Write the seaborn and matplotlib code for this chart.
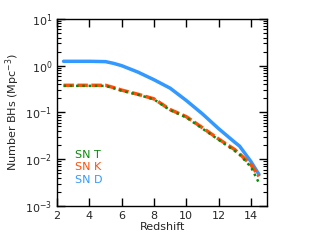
import numpy as np
import pandas as pd
import matplotlib
matplotlib.use("Agg")
import matplotlib.pyplot as plt
import seaborn as sns
from matplotlib.ticker import LogLocator, NullFormatter

redshift = [2.4, 3, 4, 5, 5.5, 6, 7, 8, 9, 10, 11, 12, 13, 13.3, 14, 14.5]
sn_d = [1.24, 1.24, 1.24, 1.22, 1.12, 1.00, 0.73, 0.50, 0.33, 0.18, 0.093, 0.045, 0.023, 0.019, 0.0089, 0.0047]
sn_k = [0.38, 0.38, 0.38, 0.38, 0.34, 0.30, 0.245, 0.195, 0.115, 0.081, 0.047, 0.027, 0.016, 0.013, 0.0076, 0.0043]
sn_t = [0.37, 0.37, 0.37, 0.37, 0.33, 0.29, 0.24, 0.19, 0.112, 0.078, 0.045, 0.026, 0.015, 0.0125, 0.0068, 0.0031]

sns.set_style("ticks")
plt.rcParams["font.family"] = ["DejaVu Sans"]
plt.rcParams["font.size"] = 8

fig = plt.figure(figsize=(3.12, 2.49), dpi=100)
ax = fig.add_axes([0.183, 0.173, 0.673, 0.751])

sns.lineplot(x=redshift, y=sn_d, ax=ax, color="#3399ff", lw=2.5, label="SN D", zorder=2)
sns.lineplot(x=redshift, y=sn_k, ax=ax, color="#ff4f0a", lw=2.5, label="SN K",
             linestyle=(0, (3, 1)), zorder=3)
sns.lineplot(x=redshift, y=sn_t, ax=ax, color="#0a8a0a", lw=1.8, label="SN T",
             linestyle=(0, (1, 1.5)), zorder=4)

ax.set_yscale("log")
ax.set_xlim(2, 15)
ax.set_ylim(1e-3, 10)
ax.set_xticks([2, 4, 6, 8, 10, 12, 14])
ax.yaxis.set_major_locator(LogLocator(base=10, numticks=10))
ax.yaxis.set_minor_locator(LogLocator(base=10, subs=np.arange(2, 10), numticks=10))
ax.yaxis.set_minor_formatter(NullFormatter())
ax.tick_params(which="both", direction="in", top=True, right=True, labelsize=8, color="black")
ax.tick_params(which="major", length=6, width=1)
ax.tick_params(which="minor", length=3, width=0.8)
for s in ax.spines.values():
    s.set_color("black")
    s.set_linewidth(1)

ax.set_xlabel("Redshift", fontsize=8, labelpad=1)
ax.set_ylabel("Number BHs (Mpc$^{-3}$)", fontsize=8, labelpad=2)

h, l = ax.get_legend_handles_labels()
order = [2, 1, 0]
leg = ax.legend([h[i] for i in order], [l[i] for i in order], loc="lower left",
                frameon=False, handlelength=0, handletextpad=0, labelspacing=0.2,
                fontsize=8, bbox_to_anchor=(0.04, 0.06))
for t, hd in zip(leg.get_texts(), leg.legend_handles):
    t.set_color(hd.get_color())
    hd.set_visible(False)

fig.savefig("out.png", dpi=100)
